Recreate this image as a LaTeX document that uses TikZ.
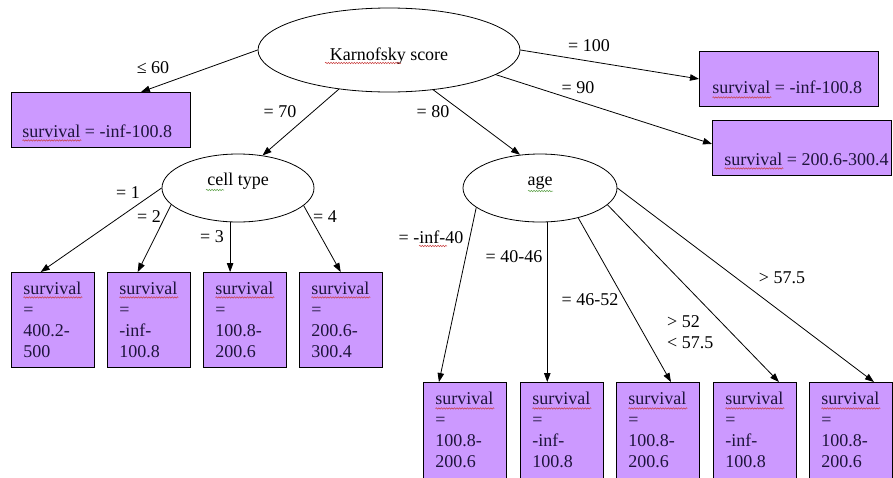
\documentclass[tikz,border=0pt]{standalone}
\usepackage{fontspec}
\setmainfont{Liberation Serif}
\setsansfont{Liberation Serif}
\newfontfamily\tnr{Liberation Serif}
\usetikzlibrary{arrows.meta,shapes.geometric,decorations.pathmorphing}
\definecolor{leaffill}{RGB}{204,153,255}
\definecolor{leaftext}{RGB}{30,20,60}
\definecolor{sqred}{RGB}{200,60,60}
\definecolor{sqgreen}{RGB}{90,160,70}
\newcommand\leafbox[3]{\parbox[c][#1][t]{#2}{\tnr\fontsize{18}{21}\selectfont\raggedright\leftskip=12pt\relax\rule{0pt}{22pt}#3}}
\newcommand\widebox[3]{\parbox[c][55pt][t]{179pt}{\tnr\fontsize{18}{21}\selectfont\raggedright\leftskip=#1\relax\rule{0pt}{#2}#3}}
\begin{document}
\begin{tikzpicture}[x=1pt,y=-1pt,
  every node/.style={font=\tnr\fontsize{18}{21}\selectfont},
  cond/.style={ellipse, draw, line width=0.8pt, inner sep=0pt},
  leaf/.style={rectangle, draw, line width=0.9pt, fill=leaffill, anchor=north west, inner sep=0pt, text=leaftext},
  sqat/.style 2 args={path picture={\draw[squig] ([shift={(#1)}]path picture bounding box.north west) -- ++(#2,0);}},
  lbl/.style={inner sep=0pt},
  conn/.style={draw, line width=0.8pt, -{Triangle[length=9pt,width=6.5pt]}},
  squig/.style={decorate, decoration={snake, amplitude=0.7pt, segment length=2.6pt}, line width=0.5pt, sqred},
  squiggr/.style={squig, sqgreen}
]
\useasboundingbox (0,0) rectangle (893,477);

% decision nodes
\node[cond, minimum width=262pt, minimum height=84pt, text height=20pt, text depth=0pt] (root) at (389,50) {Karnofsky score};
\node[cond, minimum width=152pt, minimum height=68pt, text height=0pt, text depth=6pt] (ct) at (238,188) {cell type};
\node[cond, minimum width=154pt, minimum height=68pt, text height=0pt, text depth=6pt] (ag) at (540,188) {age};

% wide leaves
\node[leaf, sqat={11,48}{59}] (L60) at (11,92) {\widebox{11pt}{45pt}{survival = -inf-100.8}};
\node[leaf, sqat={13,46}{59}] (B100) at (699,51) {\widebox{13pt}{42pt}{survival = -inf-100.8}};
\node[leaf, sqat={12,48}{59}] (B90) at (712,120) {\widebox{12pt}{45pt}{survival = 200.6-300.4}};

% cell type leaves
\node[leaf, sqat={12,25}{59}] (c1) at (11,272) {\leafbox{95pt}{82.5pt}{survival\\=\\400.2-\\500}};
\node[leaf, sqat={12,25}{59}] (c2) at (107,272) {\leafbox{95pt}{82.5pt}{survival\\=\\-inf-\\100.8}};
\node[leaf, sqat={12,25}{59}] (c3) at (203,272) {\leafbox{95pt}{82.5pt}{survival\\=\\100.8-\\200.6}};
\node[leaf, sqat={12,25}{59}] (c4) at (299,272) {\leafbox{95pt}{82.5pt}{survival\\=\\200.6-\\300.4}};

% age leaves
\node[leaf, sqat={12,26}{59}] (a1) at (423,382) {\leafbox{100pt}{83pt}{survival\\=\\100.8-\\200.6}};
\node[leaf, sqat={12,26}{59}] (a2) at (520,382) {\leafbox{100pt}{83pt}{survival\\=\\-inf-\\100.8}};
\node[leaf, sqat={12,26}{59}] (a3) at (616,382) {\leafbox{100pt}{83pt}{survival\\=\\100.8-\\200.6}};
\node[leaf, sqat={12,26}{59}] (a4) at (713,382) {\leafbox{100pt}{83pt}{survival\\=\\-inf-\\100.8}};
\node[leaf, sqat={12,26}{59}] (a5) at (809,382) {\leafbox{100pt}{83pt}{survival\\=\\100.8-\\200.6}};

% connectors
\draw[conn] (root.west) -- ([xshift=40pt]L60.north);
\draw[conn] (root.218) -- (ct.53);
\draw[conn] (root.318) -- (ag.121);
\draw[conn] (root.east) -- (B100.west);
\draw[conn] (root.347) -- ([yshift=4pt]B90.west);
\draw[conn] (ct.west) -- ([xshift=-12pt]c1.north);
\draw[conn] (ct.194) -- ([xshift=-11pt]c2.north);
\draw[conn] (ct.257) -- (ct.257 |- c3.north);
\draw[conn] (ct.345) -- (c4.north);
\draw[conn] (ag.197) -- ([xshift=-26pt]a1.north);
\draw[conn] (ag.282) -- (ag.282 |- a2.north);
\draw[conn] (ag.322) -- ([xshift=13pt]a3.north);
\draw[conn] (ag.346) -- ([xshift=24pt]a4.north);
\draw[conn] (ag.east) -- ([xshift=23pt]a5.north);

% labels
\node[lbl] (l60) at (153,68) {≤ 60};
\node[lbl] (l70) at (280,112) {= 70};
\node[lbl] (l80) at (433,112) {= 80};
\node[lbl] (l100) at (589,46) {= 100};
\node[lbl] (l90) at (578,88) {= 90};
\node[lbl] (l1) at (128,193) {= 1};
\node[lbl] (l2) at (149,217) {= 2};
\node[lbl] (l3) at (212,237) {= 3};
\node[lbl] (l4) at (325,217) {= 4};
\node[lbl] (lin) at (431,237) {= -inf-40};
\node[lbl] (l4046) at (514,257) {= 40-46};
\node[lbl] (l4652) at (590,300) {= 46-52};
\node[lbl, align=left, anchor=west] (l5257) at (667,332) {> 52\\< 57.5};
\node[lbl] (l575) at (782,278) {> 57.5};

% spell-check squiggles
\draw[squig] ([shift={(-64,13)}]root.center) -- ++(76,0);
\draw[squiggr] ([shift={(-32,2)}]ct.center) -- ++(18,0);
\draw[squiggr] ([shift={(-12,3)}]ag.center) -- ++(25,0);
\draw[squig] ([shift={(-12,9)}]lin.center) -- ++(28,0);
\end{tikzpicture}
\end{document}
